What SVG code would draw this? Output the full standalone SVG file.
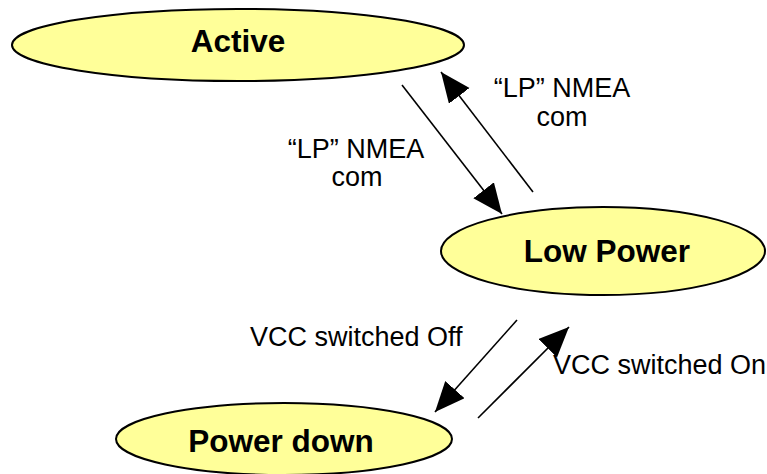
<svg xmlns="http://www.w3.org/2000/svg" width="767" height="474" viewBox="0 0 767 474">
<style>
.node{fill:#FFFF99;stroke:#000;stroke-width:2}
.nt{font-family:"Liberation Sans",Arial,sans-serif;font-weight:bold;font-size:31.5px;text-anchor:middle;fill:#000}
.lb{font-family:"Liberation Sans",Arial,sans-serif;font-size:27px;fill:#000}
.c{text-anchor:middle}
.edge{stroke:#000;stroke-width:1.6;fill:none;marker-end:url(#ah)}
</style>
<defs>
<marker id="ah" markerUnits="userSpaceOnUse" markerWidth="32" markerHeight="28" refX="30" refY="13" orient="auto">
<path d="M0,0 L30,13 L0,26 z" fill="#000"/>
</marker>
</defs>
<rect width="767" height="474" fill="#fff"/>
<g id="connectors">
<line class="edge" x1="402" y1="85" x2="502" y2="214"/>
<line class="edge" x1="533" y1="192" x2="441" y2="72"/>
<line class="edge" x1="517" y1="320" x2="435" y2="412"/>
<line class="edge" x1="478" y1="418" x2="569" y2="327"/>
<text class="lb c" x="356" y="158">“LP” NMEA</text>
<text class="lb c" x="357" y="186">com</text>
<text class="lb c" x="562" y="97">“LP” NMEA</text>
<text class="lb c" x="562" y="126">com</text>
<text class="lb" x="250" y="346">VCC switched Off</text>
<text class="lb" x="553" y="374">VCC switched On</text>
</g>
<g id="active">
<ellipse class="node" cx="238" cy="45" rx="226" ry="36"/>
<text class="nt" x="238" y="52">Active</text>
</g>
<g id="lowpower">
<ellipse class="node" cx="603" cy="251" rx="162" ry="44"/>
<text class="nt" x="607" y="262">Low Power</text>
</g>
<g id="powerdown">
<ellipse class="node" cx="284" cy="439" rx="168" ry="36"/>
<text class="nt" x="281" y="452">Power down</text>
</g>
</svg>
